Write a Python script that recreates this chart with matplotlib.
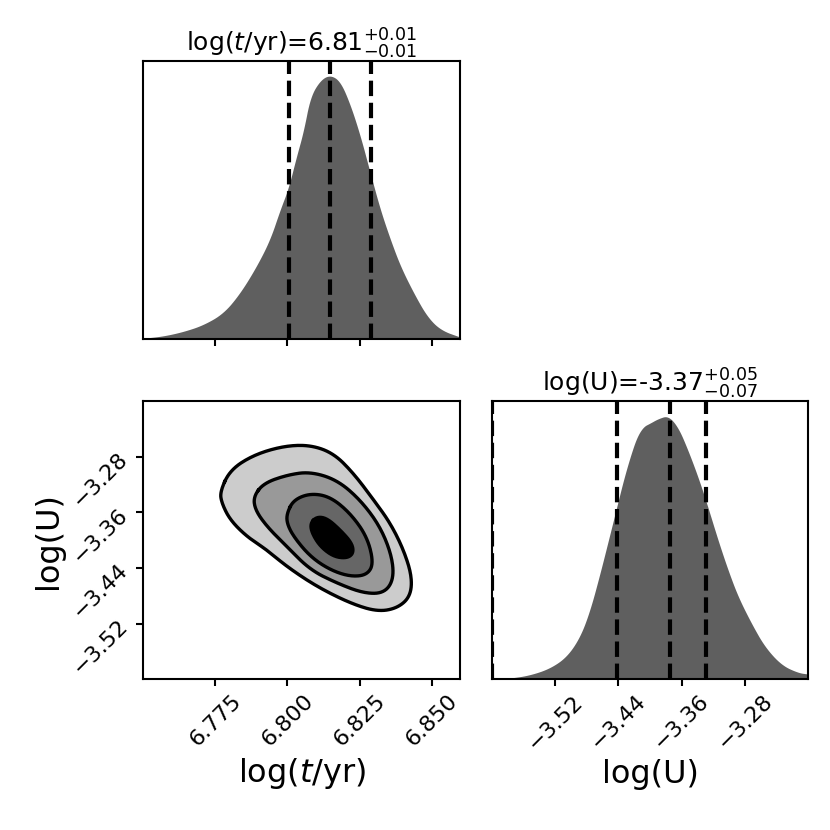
import numpy as np
import matplotlib
matplotlib.use("Agg")
import matplotlib.pyplot as plt

# ---- marginal of log(t/yr), peak-normalised heights
t_x = [6.7500, 6.7568, 6.7638, 6.7707, 6.7777, 6.7835, 6.7892, 6.7939, 6.7974,
       6.8003, 6.8031, 6.8055, 6.8079, 6.8114, 6.8148, 6.8183, 6.8218, 6.8253,
       6.8287, 6.8322, 6.8357, 6.8392, 6.8438, 6.8484, 6.8531, 6.8600]
t_h = [0.004, 0.012, 0.029, 0.054, 0.098, 0.174, 0.275, 0.376, 0.489,
       0.571, 0.691, 0.785, 0.918, 0.981, 1.000, 0.975, 0.886, 0.767,
       0.628, 0.489, 0.376, 0.275, 0.174, 0.086, 0.035, 0.008]
t_q = [6.8005, 6.8149, 6.8291]

# ---- marginal of log(U)
u_x = [-3.6000, -3.5769, -3.5516, -3.5263, -3.5052, -3.4884, -3.4758, -3.4632,
       -3.4505, -3.4421, -3.4337, -3.4253, -3.4168, -3.4085, -3.4000, -3.3899,
       -3.3773, -3.3646, -3.3520, -3.3394, -3.3289, -3.3141, -3.3015, -3.2888,
       -3.2720, -3.2551, -3.2341, -3.2130, -3.2004]
u_h = [0.002, 0.004, 0.016, 0.042, 0.086, 0.161, 0.262, 0.401,
       0.552, 0.653, 0.754, 0.842, 0.918, 0.958, 0.971, 0.988,
       1.000, 0.956, 0.868, 0.767, 0.672, 0.527, 0.414, 0.313,
       0.212, 0.123, 0.054, 0.025, 0.020]
u_q = [-3.60, -3.4421, -3.3751, -3.3289]

# ---- 2d contour levels (outer -> inner), (log t, log U)
lev1_t = [6.7766, 6.7801, 6.7882, 6.7986, 6.8079, 6.8160, 6.8229, 6.8299, 6.8357,
          6.8403, 6.8432, 6.8426, 6.8380, 6.8311, 6.8218, 6.8102, 6.7998, 6.7929,
          6.7859, 6.7801, 6.7772]
lev1_u = [-3.3304, -3.2992, -3.2776, -3.2647, -3.2632, -3.2752, -3.3039, -3.3423, -3.3758,
          -3.4142, -3.4525, -3.4813, -3.4980, -3.5028, -3.4908, -3.4669, -3.4382, -3.4142,
          -3.3950, -3.3710, -3.3470]
lev2_t = [6.7882, 6.7917, 6.7998, 6.8079, 6.8172, 6.8253, 6.8322, 6.8363,
          6.8368, 6.8334, 6.8264, 6.8172, 6.8079, 6.7998, 6.7929, 6.7888]
lev2_u = [-3.3375, -3.3183, -3.3064, -3.3016, -3.3135, -3.3423, -3.3807, -3.4238,
          -3.4573, -3.4764, -3.4764, -3.4620, -3.4429, -3.4094, -3.3807, -3.3567]
lev3_t = [6.7998, 6.8021, 6.8079, 6.8148, 6.8218, 6.8276, 6.8299, 6.8276,
          6.8218, 6.8148, 6.8079, 6.8021, 6.7998]
lev3_u = [-3.3614, -3.3423, -3.3327, -3.3375, -3.3614, -3.3950, -3.4333, -3.4501,
          -3.4525, -3.4429, -3.4238, -3.3950, -3.3758]
lev4_t = [6.8079, 6.8102, 6.8137, 6.8183, 6.8224, 6.8229, 6.8206, 6.8160, 6.8114, 6.8085]
lev4_u = [-3.3758, -3.3663, -3.3686, -3.3854, -3.4045, -3.4189, -3.4261, -3.4238, -3.4094, -3.3902]

t_ticks = [6.775, 6.800, 6.825, 6.850]
u_ticks = [-3.52, -3.44, -3.36, -3.28]
t_lim = (6.75, 6.86)
u_lim = (-3.60, -3.20)

t_label = r'log($t$/yr)'
u_label = 'log(U)'
t_title = r'log($t$/yr)=6.81$^{+0.01}_{-0.01}$'
u_title = r'log(U)=-3.37$^{+0.05}_{-0.07}$'

hist_col = '#5f5f5f'
fills = ['#cccccc', '#999999', '#666666', '#000000']


def smooth_closed(x, y, n=4):
    # chaikin corner cutting on a closed ring
    p = np.column_stack([x, y])
    for _ in range(n):
        q = np.roll(p, -1, axis=0)
        p = np.empty((2 * len(q), 2))
        p[0::2] = 0.75 * np.roll(q, 1, axis=0) + 0.25 * q
        p[1::2] = 0.25 * np.roll(q, 1, axis=0) + 0.75 * q
    p = np.vstack([p, p[:1]])
    return p[:, 0], p[:, 1]


def smooth_open(x, y, n=3):
    # same thing for an open curve, end points kept
    p = np.column_stack([x, y])
    for _ in range(n):
        a, b = p[:-1], p[1:]
        mid = np.empty((2 * len(a), 2))
        mid[0::2] = 0.75 * a + 0.25 * b
        mid[1::2] = 0.25 * a + 0.75 * b
        p = np.vstack([p[:1], mid, p[-1:]])
    return p[:, 0], p[:, 1]


def style(ax):
    for s in ax.spines.values():
        s.set_linewidth(1.5)
    ax.tick_params(width=1.5, length=5, labelsize=16)


fig = plt.figure(figsize=(8.3, 8.3), dpi=100)
ax_t = fig.add_axes([0.1727, 0.5912, 0.3821, 0.3357])
ax_2d = fig.add_axes([0.1727, 0.1816, 0.3821, 0.3353])
ax_u = fig.add_axes([0.5924, 0.1816, 0.3815, 0.3353])

# top-left marginal
sx, sy = smooth_open(t_x, t_h)
ax_t.fill_between(sx, 0, sy, color=hist_col, lw=0)
for q in t_q:
    ax_t.axvline(q, color='k', ls='--', lw=3)
ax_t.set_xlim(*t_lim)
ax_t.set_ylim(0, 1.053)
ax_t.set_xticks(t_ticks)
ax_t.set_xticklabels([])
ax_t.set_yticks([])
ax_t.set_title(t_title, fontsize=18)
style(ax_t)

# 2d panel
levels = [(lev1_t, lev1_u), (lev2_t, lev2_u), (lev3_t, lev3_u), (lev4_t, lev4_u)]
for (lx, ly), c in zip(levels, fills):
    sx, sy = smooth_closed(lx, ly)
    ax_2d.fill(sx, sy, color=c, lw=0)
    ax_2d.plot(sx, sy, color='k', lw=2.4)
ax_2d.set_xlim(*t_lim)
ax_2d.set_ylim(*u_lim)
ax_2d.set_xticks(t_ticks)
ax_2d.set_yticks(u_ticks)
ax_2d.set_xlabel(t_label, fontsize=23)
ax_2d.set_ylabel(u_label, fontsize=23)
for lab in ax_2d.get_xticklabels() + ax_2d.get_yticklabels():
    lab.set_rotation(45)
style(ax_2d)

# bottom-right marginal
sx, sy = smooth_open(u_x, u_h)
ax_u.fill_between(sx, 0, sy, color=hist_col, lw=0)
for q in u_q:
    ax_u.axvline(q, color='k', ls='--', lw=3)
ax_u.set_xlim(*u_lim)
ax_u.set_ylim(0, 1.055)
ax_u.set_xticks(u_ticks)
ax_u.set_yticks([])
ax_u.set_xlabel(u_label, fontsize=23)
for lab in ax_u.get_xticklabels():
    lab.set_rotation(45)
ax_u.set_title(u_title, fontsize=18)
style(ax_u)

fig.savefig('out.png', dpi=100)
